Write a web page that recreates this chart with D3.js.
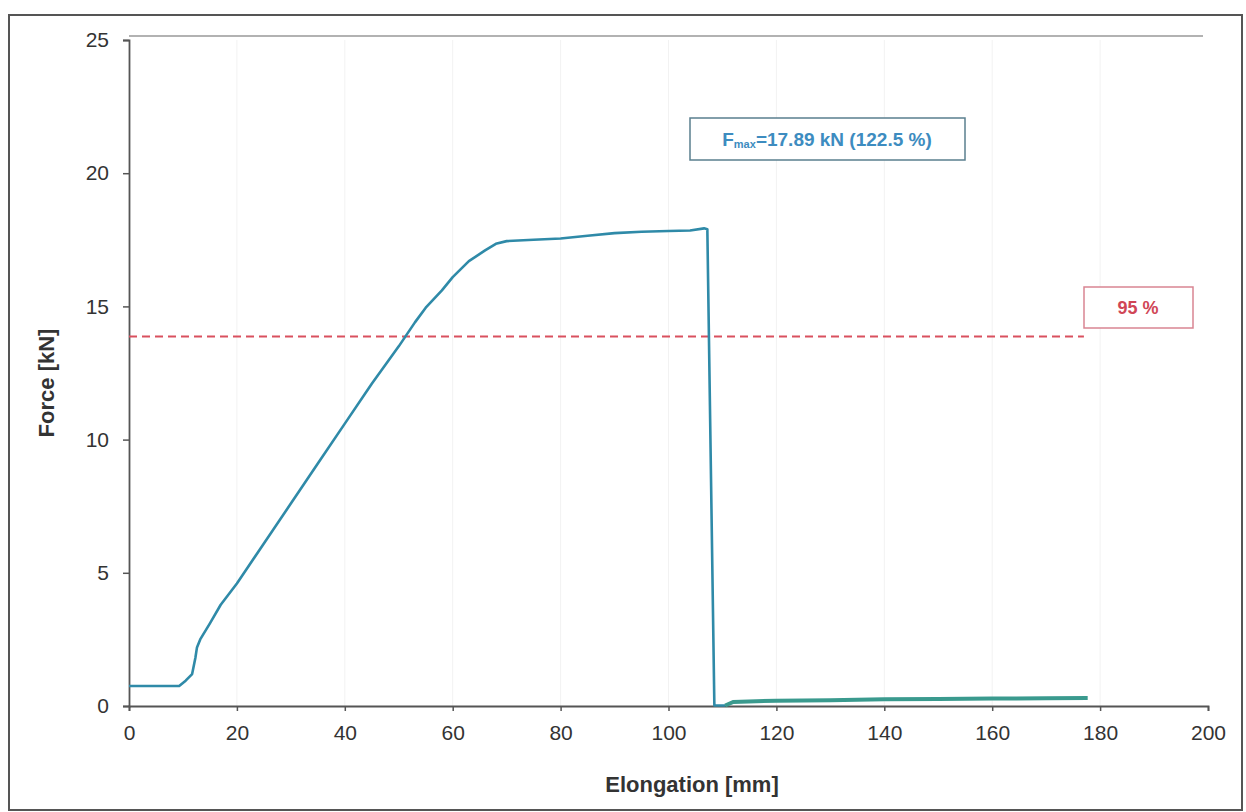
<!DOCTYPE html>
<html>
<head>
<meta charset="utf-8">
<script src="https://cdn.jsdelivr.net/npm/d3@7"></script>
<style>
  body { margin: 0; background: #fff; }
  text { font-family: "Liberation Sans", Arial, sans-serif; }
</style>
</head>
<body>
<svg id="chart" width="1246" height="812"></svg>
<script>
// elongation [mm] and force [kN]
const elongation = [0, 9.3, 10.5, 11.7, 12.3, 12.6, 13.2, 15, 17, 20, 25, 30, 35, 40, 45, 50, 53, 55, 58, 60, 63, 66, 68, 70, 75, 80, 85, 90, 95, 100, 104, 106.6, 107.2, 108.5, 110.5]
const force = [0.75, 0.75, 0.95, 1.2, 1.8, 2.2, 2.5, 3.1, 3.8, 4.6, 6.1, 7.6, 9.1, 10.6, 12.1, 13.5, 14.4, 14.95, 15.6, 16.1, 16.7, 17.1, 17.35, 17.45, 17.5, 17.55, 17.65, 17.75, 17.8, 17.83, 17.85, 17.93, 17.9, 0.02, 0.02]
// residual force after rupture
const tailElongation = [110.5, 112, 120, 130, 140, 150, 160, 170, 177.7]
const tailForce = [0.02, 0.15, 0.2, 0.22, 0.25, 0.26, 0.28, 0.29, 0.3]

const xTicks = [0, 20, 40, 60, 80, 100, 120, 140, 160, 180, 200]
const yTicks = [0, 5, 10, 15, 20, 25]
const fmax = 17.89
const fmaxPct = 122.5
const level95 = fmax / (fmaxPct / 100) * 0.95

const svg = d3.select("#chart")
const plotLeft = 129, plotRight = 1208, plotTop = 40, plotBottom = 706

const x = d3.scaleLinear().domain([0, 200]).range([plotLeft, plotRight])
const y = d3.scaleLinear().domain([0, 25]).range([plotBottom, plotTop])

// outer frame
svg.append("rect")
    .attr("x", 9).attr("y", 15).attr("width", 1233).attr("height", 795)
    .attr("fill", "none").attr("stroke", "#555").attr("stroke-width", 2)

// faint vertical grid
svg.append("g").selectAll("line")
    .data(xTicks.slice(1, -1))
    .enter().append("line")
    .attr("x1", d => x(d)).attr("x2", d => x(d))
    .attr("y1", plotTop).attr("y2", plotBottom)
    .attr("stroke", "#f2f2f2")

// top border of plot area
svg.append("line")
    .attr("x1", plotLeft).attr("x2", plotRight - 5)
    .attr("y1", plotTop - 4).attr("y2", plotTop - 4)
    .attr("stroke", "#999").attr("stroke-width", 1.5)

// axes
const xAxis = svg.append("g")
    .attr("transform", "translate(0," + plotBottom + ")")
    .call(d3.axisBottom(x).tickValues(xTicks).tickSize(5).tickPadding(14))
const yAxis = svg.append("g")
    .attr("transform", "translate(" + plotLeft + ",0)")
    .call(d3.axisLeft(y).tickValues(yTicks).tickSize(6).tickPadding(14))

;[xAxis, yAxis].forEach(a => {
    a.select(".domain").attr("stroke", "#555").attr("stroke-width", 1.8)
    a.selectAll(".tick line").attr("stroke", "#555").attr("stroke-width", 1.5)
    a.selectAll(".tick text")
        .attr("fill", "#333")
        .style("font-size", "21px")
        .style("font-family", "'Liberation Sans', Arial, sans-serif")
})

// axis titles
svg.append("text")
    .attr("x", 692).attr("y", 792)
    .attr("text-anchor", "middle")
    .attr("fill", "#333")
    .style("font-size", "22px").style("font-weight", "bold")
    .text("Elongation [mm]")

svg.append("text")
    .attr("transform", "translate(54," + ((plotTop + plotBottom) / 2 + 10) + ") rotate(-90)")
    .attr("text-anchor", "middle")
    .attr("fill", "#333")
    .style("font-size", "22px").style("font-weight", "bold")
    .text("Force [kN]")

// 95 % level
svg.append("line")
    .attr("x1", x(0)).attr("x2", x(177))
    .attr("y1", y(level95)).attr("y2", y(level95))
    .attr("stroke", "#d9505e").attr("stroke-width", 2)
    .attr("stroke-dasharray", "8,5")

const line = d3.line().x(d => x(d[0])).y(d => y(d[1]))

svg.append("path")
    .datum(d3.zip(elongation, force))
    .attr("d", line)
    .attr("fill", "none")
    .attr("stroke", "#2f8aa8")
    .attr("stroke-width", 2.6)
    .attr("stroke-linejoin", "round")

svg.append("path")
    .datum(d3.zip(tailElongation, tailForce))
    .attr("d", line)
    .attr("fill", "none")
    .attr("stroke", "#3a9a8e")
    .attr("stroke-width", 4)

// labels
const fBox = svg.append("g").attr("transform", "translate(690,118)")
fBox.append("rect")
    .attr("width", 275).attr("height", 42)
    .attr("fill", "#fff").attr("stroke", "#5a7f8e").attr("stroke-width", 1.5)
const fText = fBox.append("text")
    .attr("x", 137).attr("y", 28)
    .attr("text-anchor", "middle")
    .attr("fill", "#3d8cc0")
    .style("font-size", "19px").style("font-weight", "bold")
fText.append("tspan").text("F")
fText.append("tspan").style("font-size", "11px").attr("dy", 2).text("max")
fText.append("tspan").attr("dy", -2).text("=" + fmax.toFixed(2) + " kN (" + fmaxPct + " %)")

const pBox = svg.append("g").attr("transform", "translate(1084,287)")
pBox.append("rect")
    .attr("width", 109).attr("height", 41)
    .attr("fill", "#fff").attr("stroke", "#d98592").attr("stroke-width", 1.5)
pBox.append("text")
    .attr("x", 54).attr("y", 27)
    .attr("text-anchor", "middle")
    .attr("fill", "#d04656")
    .style("font-size", "18px").style("font-weight", "bold")
    .text("95 %")
</script>
</body>
</html>
